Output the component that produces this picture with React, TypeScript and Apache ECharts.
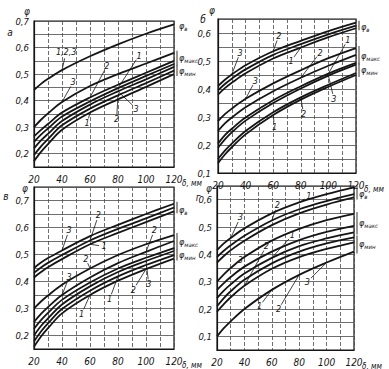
import React, { useEffect, useRef } from 'react';
import * as echarts from 'echarts';

// δ, мм
const XS = [20, 25, 30, 40, 60, 80, 100, 120];

// Panel а
const A_V = [0.44, 0.463, 0.482, 0.515, 0.567, 0.612, 0.652, 0.687];
const A_MAX1 = [0.3, 0.328, 0.352, 0.395, 0.455, 0.5, 0.54, 0.58];
const A_MAX2 = [0.265, 0.29, 0.312, 0.355, 0.412, 0.46, 0.505, 0.55];
const A_MAX3 = [0.245, 0.272, 0.295, 0.34, 0.397, 0.447, 0.493, 0.538];
const A_MIN1 = [0.22, 0.25, 0.275, 0.323, 0.385, 0.435, 0.48, 0.527];
const A_MIN2 = [0.195, 0.228, 0.255, 0.307, 0.37, 0.42, 0.466, 0.513];
const A_MIN3 = [0.172, 0.207, 0.236, 0.29, 0.355, 0.405, 0.452, 0.5];

// Panel б
const B_V1 = [0.41, 0.433, 0.452, 0.485, 0.535, 0.572, 0.607, 0.637];
const B_V2 = [0.395, 0.418, 0.437, 0.47, 0.522, 0.56, 0.595, 0.626];
const B_V3 = [0.38, 0.403, 0.422, 0.456, 0.509, 0.548, 0.585, 0.617];
const B_MAX1 = [0.285, 0.31, 0.33, 0.365, 0.42, 0.467, 0.51, 0.546];
const B_MAX2 = [0.25, 0.277, 0.298, 0.335, 0.392, 0.44, 0.483, 0.522];
const B_MAX3 = [0.205, 0.235, 0.258, 0.298, 0.36, 0.41, 0.455, 0.493];
const B_MIN1 = [0.19, 0.22, 0.245, 0.287, 0.35, 0.402, 0.448, 0.487];
const B_MIN2 = [0.15, 0.18, 0.205, 0.25, 0.317, 0.37, 0.415, 0.457];
const B_MIN3 = [0.135, 0.166, 0.192, 0.238, 0.307, 0.362, 0.408, 0.45];

// Panel в
const C_V1 = [0.45, 0.47, 0.487, 0.515, 0.568, 0.61, 0.65, 0.688];
const C_V2 = [0.432, 0.452, 0.469, 0.498, 0.552, 0.595, 0.634, 0.674];
const C_V3 = [0.415, 0.435, 0.453, 0.483, 0.538, 0.58, 0.62, 0.66];
const C_M1 = [0.3, 0.326, 0.348, 0.388, 0.448, 0.498, 0.538, 0.572];
const C_M2 = [0.25, 0.28, 0.305, 0.35, 0.415, 0.468, 0.51, 0.55];
const C_M3 = [0.225, 0.257, 0.284, 0.332, 0.396, 0.448, 0.488, 0.524];
const C_N1 = [0.2, 0.235, 0.263, 0.315, 0.382, 0.435, 0.476, 0.513];
const C_N2 = [0.178, 0.215, 0.245, 0.298, 0.366, 0.419, 0.461, 0.498];
const C_N3 = [0.158, 0.196, 0.227, 0.282, 0.35, 0.403, 0.446, 0.485];

// Panel г
const G_V1 = [0.415, 0.44, 0.46, 0.495, 0.55, 0.59, 0.62, 0.645];
const G_V2 = [0.39, 0.413, 0.433, 0.468, 0.524, 0.565, 0.595, 0.62];
const G_V3 = [0.37, 0.394, 0.415, 0.45, 0.507, 0.55, 0.582, 0.608];
const G_M1 = [0.3, 0.327, 0.35, 0.39, 0.45, 0.493, 0.525, 0.548];
const G_M2 = [0.27, 0.295, 0.317, 0.355, 0.41, 0.452, 0.482, 0.504];
const G_M3 = [0.24, 0.267, 0.29, 0.33, 0.387, 0.43, 0.458, 0.48];
const G_N1 = [0.21, 0.24, 0.265, 0.307, 0.367, 0.41, 0.44, 0.462];
const G_N2 = [0.19, 0.218, 0.243, 0.285, 0.347, 0.39, 0.42, 0.444];
const G_N3 = [0.1, 0.13, 0.155, 0.2, 0.27, 0.325, 0.37, 0.41];

const GROUP_SUBS = ['в', 'макс', 'мин'];

const PANELS = [
  { letter: 'а', grid: { left: 34, top: 21, width: 140, height: 146 }, ymin: 0.15, ymax: 0.7, ylabMargin: 5,
    groups: [[A_V], [A_MAX1, A_MAX2, A_MAX3], [A_MIN1, A_MIN2, A_MIN3]], letterPos: [10, 32], phiOff: [-7, -10] },
  { letter: 'б', grid: { left: 218, top: 19, width: 138, height: 154 }, ymin: 0.1, ymax: 0.65, ylabMargin: 7,
    groups: [[B_V1, B_V2, B_V3], [B_MAX1, B_MAX2, B_MAX3], [B_MIN1, B_MIN2, B_MIN3]], letterPos: [203, 19], phiOff: [-6, -9] },
  { letter: 'в', grid: { left: 34, top: 187, width: 140, height: 162 }, ymin: 0.15, ymax: 0.75, ylabMargin: 5,
    groups: [[C_V1, C_V2, C_V3], [C_M1, C_M2, C_M3], [C_N1, C_N2, C_N3]], letterPos: [6, 196], phiOff: [-9, 1] },
  { letter: 'г', grid: { left: 217, top: 186, width: 137, height: 164 }, ymin: 0.05, ymax: 0.65, ylabMargin: 5,
    groups: [[G_V1, G_V2, G_V3], [G_M1, G_M2, G_M3], [G_N1, G_N2, G_N3]], letterPos: [198, 197], phiOff: [-8, 2] },
];

// curve number labels: panel, curve, point index on curve, text position (mm, φ)
const LABELS: { p: number; arr: number[]; k: number; tx: number; ty: number; t: string }[] = [
  { p: 0, arr: A_V, k: 3, tx: 43, ty: 0.585, t: '1,2,3' },
  { p: 0, arr: A_MAX1, k: 3, tx: 48, ty: 0.47, t: '3' },
  { p: 0, arr: A_MAX2, k: 4, tx: 72, ty: 0.53, t: '2' },
  { p: 0, arr: A_MAX3, k: 5, tx: 95, ty: 0.57, t: '1' },
  { p: 0, arr: A_MIN3, k: 4, tx: 58, ty: 0.315, t: '1' },
  { p: 0, arr: A_MIN2, k: 5, tx: 79, ty: 0.33, t: '2' },
  { p: 0, arr: A_MIN1, k: 5, tx: 93, ty: 0.37, t: '3' },

  { p: 1, arr: B_V1, k: 4, tx: 64, ty: 0.59, t: '2' },
  { p: 1, arr: B_V3, k: 5, tx: 73, ty: 0.5, t: '1' },
  { p: 1, arr: B_V1, k: 2, tx: 36, ty: 0.53, t: '3' },
  { p: 1, arr: B_MAX1, k: 3, tx: 47, ty: 0.43, t: '3' },
  { p: 1, arr: B_MAX2, k: 5, tx: 94, ty: 0.53, t: '2' },
  { p: 1, arr: B_MAX3, k: 6, tx: 114, ty: 0.575, t: '1' },
  { p: 1, arr: B_MIN3, k: 4, tx: 61, ty: 0.265, t: '1' },
  { p: 1, arr: B_MIN2, k: 5, tx: 82, ty: 0.31, t: '2' },
  { p: 1, arr: B_MIN1, k: 6, tx: 104, ty: 0.365, t: '3' },

  { p: 2, arr: C_V1, k: 3, tx: 45, ty: 0.59, t: '3' },
  { p: 2, arr: C_V2, k: 4, tx: 66, ty: 0.645, t: '2' },
  { p: 2, arr: C_V3, k: 4, tx: 70, ty: 0.53, t: '1' },
  { p: 2, arr: C_M1, k: 4, tx: 57, ty: 0.485, t: '2' },
  { p: 2, arr: C_M2, k: 3, tx: 45, ty: 0.415, t: '3' },
  { p: 2, arr: C_M2, k: 6, tx: 106, ty: 0.59, t: '2' },
  { p: 2, arr: C_N3, k: 4, tx: 54, ty: 0.28, t: '1' },
  { p: 2, arr: C_N2, k: 5, tx: 74, ty: 0.335, t: '1' },
  { p: 2, arr: C_N3, k: 6, tx: 91, ty: 0.37, t: '2' },
  { p: 2, arr: C_N1, k: 6, tx: 102, ty: 0.39, t: '3' },

  { p: 3, arr: G_V1, k: 5, tx: 87, ty: 0.612, t: '1' },
  { p: 3, arr: G_V2, k: 4, tx: 64, ty: 0.58, t: '2' },
  { p: 3, arr: G_V1, k: 2, tx: 37, ty: 0.535, t: '3' },
  { p: 3, arr: G_M3, k: 4, tx: 75, ty: 0.47, t: '1' },
  { p: 3, arr: G_N2, k: 3, tx: 56, ty: 0.43, t: '2' },
  { p: 3, arr: G_M1, k: 2, tx: 37, ty: 0.38, t: '3' },
  { p: 3, arr: G_N3, k: 4, tx: 51, ty: 0.21, t: '1' },
  { p: 3, arr: G_N3, k: 5, tx: 65, ty: 0.2, t: '2' },
  { p: 3, arr: G_N3, k: 6, tx: 86, ty: 0.3, t: '3' },
];

const FONT = '"Liberation Sans Narrow", "DejaVu Sans Condensed", "DejaVu Sans", sans-serif';
const INK = '#151515';

export default function App() {
  const ref = useRef<HTMLDivElement>(null);
  useEffect(() => {
    if (!ref.current) return;
    const chart = echarts.init(ref.current, undefined, { renderer: 'svg' });
    const txt = { fontFamily: FONT, fontStyle: 'italic' as const, color: INK, fontSize: 10 };
    const series: any[] = [];
    PANELS.forEach((p, i) => {
      p.groups.forEach((g) =>
        g.forEach((arr) =>
          series.push({
            type: 'line', xAxisIndex: i, yAxisIndex: i, silent: true,
            data: XS.map((x, k) => [x, arr[k]]),
            smooth: 0.35, symbol: 'none',
            lineStyle: { color: INK, width: 1.8 },
          })
        )
      );
    });
    chart.setOption({
      animation: false,
      backgroundColor: '#ffffff',
      grid: PANELS.map((p) => ({ ...p.grid, show: true, borderColor: INK, borderWidth: 1.2 })),
      xAxis: PANELS.map((p, i) => ({
        type: 'value', gridIndex: i, min: 20, max: 120, interval: 10,
        axisLine: { show: true, onZero: false, lineStyle: { color: INK, width: 1.2 } },
        axisTick: { show: false },
        axisLabel: { ...txt, margin: 7, formatter: (v: number) => (Math.round(v) % 20 === 0 ? String(Math.round(v)) : '') },
        splitLine: { show: true, lineStyle: { color: '#4a4a4a', width: 0.8, type: [4, 2] } },
      })),
      yAxis: PANELS.map((p, i) => ({
        type: 'value', gridIndex: i, min: p.ymin, max: p.ymax, interval: 0.05,
        axisLine: { show: true, onZero: false, lineStyle: { color: INK, width: 1.2 } },
        axisTick: { show: false },
        axisLabel: {
          ...txt, fontSize: 9.5, margin: p.ylabMargin, showMinLabel: true, showMaxLabel: true,
          formatter: (v: number) => {
            const r = Math.round(v * 100);
            return r % 10 === 0 ? (r / 100).toFixed(1).replace('.', ',') : '';
          },
        },
        splitLine: { show: true, lineStyle: { color: '#4a4a4a', width: 0.8 } },
      })),
      series,
    });

    const px = (i: number, x: number, y: number) =>
      chart.convertToPixel({ gridIndex: i } as any, [x, y]) as unknown as number[];
    const graphic: any[] = [];
    const tstyle = { fontFamily: FONT, fontStyle: 'italic', fill: INK };

    PANELS.forEach((p, i) => {
      graphic.push({ type: 'text', x: p.letterPos[0], y: p.letterPos[1],
        style: { ...tstyle, text: p.letter, fontSize: 10, align: 'center', verticalAlign: 'middle' } });
      const tl = px(i, 20, p.ymax);
      graphic.push({ type: 'text', x: tl[0] + p.phiOff[0], y: tl[1] + p.phiOff[1],
        style: { ...tstyle, text: 'φ', fontSize: 10, align: 'center', verticalAlign: 'middle' } });
      const br = px(i, 120, p.ymin);
      graphic.push({ type: 'text', x: br[0] + 8, y: br[1] + 16,
        style: { ...tstyle, text: 'δ, мм', fontSize: 8, align: 'left', verticalAlign: 'middle' } });
      p.groups.forEach((g, j) => {
        const ends = g.map((a) => a[a.length - 1]);
        const top = px(i, 120, Math.max(...ends));
        const bot = px(i, 120, Math.min(...ends));
        const xr = top[0];
        if (g.length > 1) {
          graphic.push({ type: 'line', shape: { x1: xr + 3, y1: top[1] - 2, x2: xr + 3, y2: bot[1] + 2 },
            style: { stroke: '#777', lineWidth: 1.5 } });
        }
        graphic.push({
          type: 'text', x: xr + 5, y: (top[1] + bot[1]) / 2 + (j === 0 ? 2 : 0),
          style: {
            ...tstyle, text: `{a|φ}{s|${GROUP_SUBS[j]}}`, align: 'left', verticalAlign: 'middle',
            rich: {
              a: { fontFamily: FONT, fontStyle: 'italic', fontSize: 9, fill: INK },
              s: { fontFamily: FONT, fontStyle: 'italic', fontSize: 6, fill: INK, padding: [5, 0, 0, 0] },
            },
          },
        });
      });
    });

    LABELS.forEach((l) => {
      const a = px(l.p, XS[l.k], l.arr[l.k]);
      const t = px(l.p, l.tx, l.ty);
      const dx = a[0] - t[0];
      const dy = a[1] - t[1];
      const len = Math.hypot(dx, dy) || 1;
      const off = l.t.length > 1 ? 7 : 5;
      graphic.push({ type: 'line', shape: { x1: t[0] + (dx / len) * off, y1: t[1] + (dy / len) * off, x2: a[0], y2: a[1] },
        style: { stroke: INK, lineWidth: 0.8 } });
      graphic.push({ type: 'text', x: t[0], y: t[1],
        style: { ...tstyle, text: l.t, fontSize: 9, align: 'center', verticalAlign: 'middle' } });
    });

    chart.setOption({ graphic });
    return () => chart.dispose();
  }, []);
  return <div ref={ref} style={{ position: 'fixed', left: 0, top: 0, width: 389, height: 369, background: '#fff' }} />;
}
